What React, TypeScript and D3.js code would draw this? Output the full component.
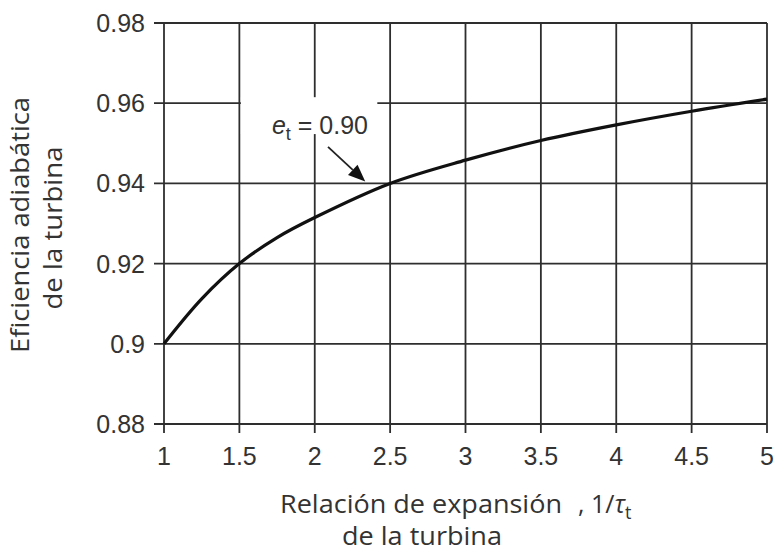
import React from "react";
import * as d3 from "d3";

const xTicks = [1, 1.5, 2, 2.5, 3, 3.5, 4, 4.5, 5];
const xTickLabels = ["1", "1.5", "2", "2.5", "3", "3.5", "4", "4.5", "5"];
const yTicks = [0.88, 0.9, 0.92, 0.94, 0.96, 0.98];
const yTickLabels = ["0.88", "0.9", "0.92", "0.94", "0.96", "0.98"];

const expansionRatio = [1, 1.25, 1.5, 1.75, 2, 2.5, 3, 3.5, 4, 4.5, 5];
const efficiency = [0.9, 0.9112, 0.92, 0.9265, 0.9315, 0.94, 0.9458, 0.9507, 0.9546, 0.958, 0.961];

const W = 774;
const H = 551;
const left = 164;
const right = 767;
const top = 23;
const bottom = 424;

export default function App() {
  const x = d3.scaleLinear().domain([1, 5]).range([left, right]);
  const y = d3.scaleLinear().domain([0.88, 0.98]).range([bottom, top]);
  const line = d3
    .line<number>()
    .x((_, i) => x(expansionRatio[i]))
    .y((d) => y(d))
    .curve(d3.curveCatmullRom.alpha(0.5));

  const gridColor = "#2e2e2e";
  const textColor = "#333";

  const boxX0 = x(1.51), boxX1 = x(2.415);
  const boxY0 = y(0.9615), boxY1 = y(0.9523);
  const arrowFrom = [x(2.088), y(0.9491)];
  const arrowTo = [x(2.335), y(0.9405)];
  const ang = Math.atan2(arrowTo[1] - arrowFrom[1], arrowTo[0] - arrowFrom[0]);
  const hl = 17, hw = 7;
  const bx = arrowTo[0] - hl * Math.cos(ang), by = arrowTo[1] - hl * Math.sin(ang);
  const head = [
    [arrowTo[0], arrowTo[1]],
    [bx + hw * Math.sin(ang), by - hw * Math.cos(ang)],
    [bx - hw * Math.sin(ang), by + hw * Math.cos(ang)],
  ];

  return (
    <svg width={W} height={H} style={{ position: "absolute", left: 0, top: 0, background: "#fff" }}>
      {yTicks.map((t) => (
        <line key={"h" + t} x1={left - 10} x2={right} y1={y(t)} y2={y(t)} stroke={gridColor} strokeWidth={1.8} />
      ))}
      {xTicks.map((t) => (
        <line key={"v" + t} x1={x(t)} x2={x(t)} y1={top} y2={bottom + 9} stroke={gridColor} strokeWidth={1.8} />
      ))}
      <rect x={boxX0} y={boxY0} width={boxX1 - boxX0} height={boxY1 - boxY0} fill="#fff" />
      <path d={line(efficiency) || ""} fill="none" stroke="#111" strokeWidth={3.2} />
      <line x1={arrowFrom[0]} y1={arrowFrom[1]} x2={bx} y2={by} stroke="#222" strokeWidth={1.8} />
      <polygon points={head.map((p) => p.join(",")).join(" ")} fill="#111" />
      <text x={x(1.716)} y={y(0.9523)} fontFamily="Liberation Sans, Arial, sans-serif" fontSize={25} fill={textColor}>
        <tspan fontStyle="italic">e</tspan>
        <tspan fontSize={18} dy={6}>t</tspan>
        <tspan dy={-6}> = 0.90</tspan>
      </text>
      {yTicks.map((t, i) => (
        <text key={"yl" + t} x={left - 19} y={y(t)} dy="0.36em" textAnchor="end" fontFamily="Liberation Sans, Arial, sans-serif" fontSize={25} fill={textColor}>
          {yTickLabels[i]}
        </text>
      ))}
      {xTicks.map((t, i) => (
        <text key={"xl" + t} x={x(t)} y={465} textAnchor="middle" fontFamily="Liberation Sans, Arial, sans-serif" fontSize={25} fill={textColor}>
          {xTickLabels[i]}
        </text>
      ))}
      <text x={280} y={513} fontFamily="Open Sans, sans-serif" fontSize={25} fill={textColor} textLength={282} lengthAdjust="spacingAndGlyphs">
        Relación de expansión
      </text>
      <text x={578} y={513} fontFamily="Open Sans, sans-serif" fontSize={25} fill={textColor}>
        , 1/<tspan fontStyle="italic">τ</tspan>
        <tspan fontSize={18} dy={6}>t</tspan>
      </text>
      <text x={422} y={545} textAnchor="middle" fontFamily="Open Sans, sans-serif" fontSize={25} fill={textColor} textLength={160} lengthAdjust="spacingAndGlyphs">
        de la turbina
      </text>
      <text transform={`translate(29, 225) rotate(-90)`} textAnchor="middle" fontFamily="Open Sans, sans-serif" fontSize={25} fill={textColor} textLength={256} lengthAdjust="spacingAndGlyphs">
        Eficiencia adiabática
      </text>
      <text transform={`translate(62, 228) rotate(-90)`} textAnchor="middle" fontFamily="Open Sans, sans-serif" fontSize={25} fill={textColor} textLength={163} lengthAdjust="spacingAndGlyphs">
        de la turbina
      </text>
    </svg>
  );
}
